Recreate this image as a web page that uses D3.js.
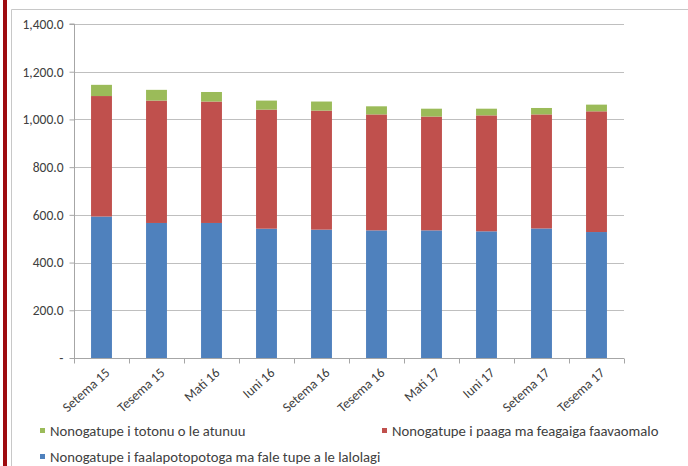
<!DOCTYPE html>
<html>
<head>
<meta charset="utf-8">
<script src="https://cdn.jsdelivr.net/npm/d3@7"></script>
<style>
body { margin: 0; background: #fff; }
svg text { font-family: Carlito, Calibri, "Liberation Sans", sans-serif; fill: #404040; }
</style>
</head>
<body>
<div id="chart"></div>
<script>
// data
var categories = ["Setema 15", "Tesema 15", "Mati 16", "Iuni 16", "Setema 16",
    "Tesema 16", "Mati 17", "Iuni 17", "Setema 17", "Tesema 17"];
var faalapotopotoga = [593, 566, 566, 542, 538, 535, 535, 531, 543, 528];
var paaga = [505, 513, 509, 499, 499, 486, 477, 486, 478, 506];
var totonu = [47, 45, 40, 38, 38, 34, 33, 28, 27, 28];
var seriesNames = ["Nonogatupe i faalapotopotoga ma fale tupe a le lalolagi",
    "Nonogatupe i paaga ma feagaiga faavaomalo",
    "Nonogatupe i totonu o le atunuu"];
var seriesColors = ["#4F81BD", "#C0504D", "#9BBB59"];
var yTicks = [0, 200, 400, 600, 800, 1000, 1200, 1400];

var W = 688, H = 466;
var margin = {top: 24, right: 64, bottom: 108, left: 74};

var svg = d3.select("#chart").append("svg")
    .attr("width", W)
    .attr("height", H);

// frame
svg.append("rect").attr("x", 3).attr("y", 0).attr("width", 4).attr("height", H).attr("fill", "#9e0b0f");
svg.append("path").attr("d", "M11.5," + H + "V9.5H" + W)
    .attr("fill", "none").attr("stroke", "#c8c8c8").attr("stroke-width", 1);

var x = d3.scaleBand()
    .domain(categories)
    .range([margin.left, W - margin.right])
    .paddingInner(0.62)
    .paddingOuter(0.31);

var y = d3.scaleLinear()
    .domain([0, 1400])
    .range([H - margin.bottom, margin.top]);

// gridlines
svg.append("g").selectAll("line")
    .data(yTicks.slice(1))
    .enter().append("line")
    .attr("x1", margin.left).attr("x2", W - margin.right)
    .attr("y1", function(d) { return Math.round(y(d)) + 0.5; })
    .attr("y2", function(d) { return Math.round(y(d)) + 0.5; })
    .attr("stroke", "#bfbfbf");

var rows = categories.map(function(c, i) {
    return {cat: c, s0: faalapotopotoga[i], s1: paaga[i], s2: totonu[i]};
});
var stack = d3.stack().keys(["s0", "s1", "s2"])(rows);

svg.append("g").selectAll("g")
    .data(stack)
    .enter().append("g")
    .attr("fill", function(d, i) { return seriesColors[i]; })
    .selectAll("rect")
    .data(function(d) { return d; })
    .enter().append("rect")
    .attr("x", function(d) { return x(d.data.cat); })
    .attr("width", x.bandwidth())
    .attr("y", function(d) { return y(d[1]); })
    .attr("height", function(d) { return y(d[0]) - y(d[1]); });

// y axis
var yAxis = svg.append("g")
    .attr("transform", "translate(" + (margin.left + 0.5) + ",0)")
    .call(d3.axisLeft(y).tickValues(yTicks).tickSize(5).tickPadding(6)
        .tickFormat(function(d) { return d === 0 ? "-" : d3.format(",.1f")(d); }));
yAxis.select(".domain").attr("stroke", "#a6a6a6").attr("d", "M-5," + y(1400) + "H0V" + y(0));
yAxis.selectAll(".tick line").attr("stroke", "#a6a6a6");
yAxis.selectAll("text").style("font-size", "13.5px").attr("fill", "#404040");

// x axis
var xAxisG = svg.append("g").attr("transform", "translate(0," + (Math.round(y(0)) + 0.5) + ")");
xAxisG.append("line").attr("x1", margin.left).attr("x2", W - margin.right).attr("stroke", "#a6a6a6");
var step = x.step();
var xEdges = d3.range(categories.length + 1).map(function(i) { return margin.left + i * step; });
xAxisG.selectAll("line.tk")
    .data(xEdges)
    .enter().append("line")
    .attr("class", "tk")
    .attr("x1", function(d) { return Math.round(d) + 0.5; })
    .attr("x2", function(d) { return Math.round(d) + 0.5; })
    .attr("y1", 0).attr("y2", 5)
    .attr("stroke", "#a6a6a6");
xAxisG.selectAll("text")
    .data(categories)
    .enter().append("text")
    .attr("transform", function(d) {
        return "translate(" + (x(d) + x.bandwidth() / 2 + 6) + ",12)rotate(-42)";
    })
    .attr("text-anchor", "end")
    .attr("dy", "0.35em")
    .style("font-size", "13.5px")
    .text(function(d) { return d; });

// legend
var legendItems = [
    {name: seriesNames[2], color: seriesColors[2], x: 40, y: 428},
    {name: seriesNames[1], color: seriesColors[1], x: 382, y: 428},
    {name: seriesNames[0], color: seriesColors[0], x: 40, y: 454}
];
var lg = svg.append("g").selectAll("g")
    .data(legendItems)
    .enter().append("g")
    .attr("transform", function(d) { return "translate(" + d.x + "," + d.y + ")"; });
lg.append("rect").attr("width", 5).attr("height", 5).attr("fill", function(d) { return d.color; });
lg.append("text")
    .attr("x", 10).attr("y", 2.5).attr("dy", "0.35em")
    .style("font-size", "14.7px")
    .text(function(d) { return d.name; });
</script>
</body>
</html>
